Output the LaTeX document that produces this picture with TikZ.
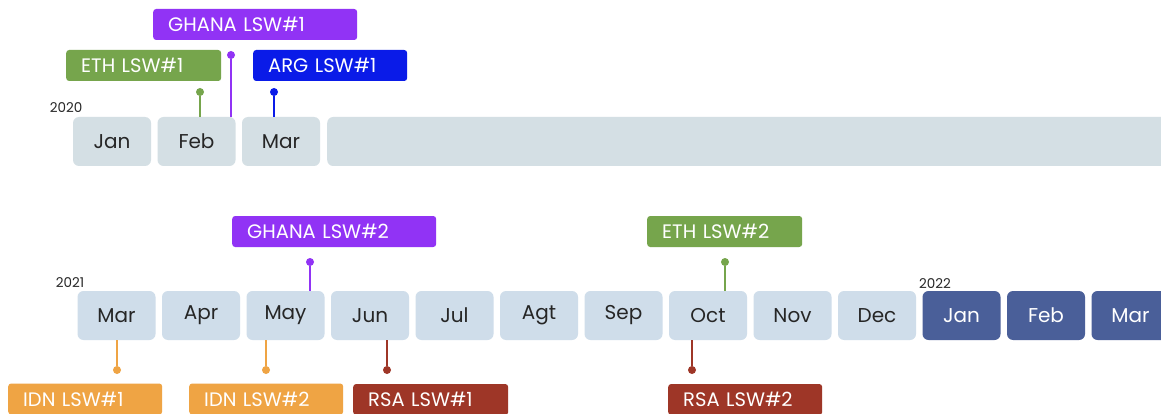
\documentclass[tikz,border=0pt]{standalone}
\usepackage{fontspec}
\setmainfont{Poppins}
\usetikzlibrary{positioning}
\definecolor{greyblue}{HTML}{D4DFE4}
\definecolor{paleblue}{HTML}{CFDDEA}
\definecolor{navy}{HTML}{4A5F99}
\definecolor{ethgreen}{HTML}{76A54C}
\definecolor{ghanapurple}{HTML}{9133F5}
\definecolor{argblue}{HTML}{0A1BE8}
\definecolor{idnorange}{HTML}{EFA444}
\definecolor{rsared}{HTML}{9E3627}

\tikzset{
  monthbox/.style={fill=#1, rounded corners=6pt, minimum width=78pt, minimum height=49pt,
    inner sep=0pt, text=black!85, font=\fontsize{20}{24}\selectfont},
  tag/.style 2 args={fill=#1, text=white, rounded corners=3pt, anchor=west,
    text width=#2, align=left, inner xsep=15pt, inner ysep=0pt, minimum height=31pt,
    font=\fontsize{19.5}{23}\selectfont},
  pin/.style={circle, fill=#1, inner sep=0pt, minimum size=8pt},
  stem/.style={#1, line width=1.3pt},
  year/.style={font=\fontsize{13.5}{16}\selectfont, text=black!85}
}

\begin{document}
\begin{tikzpicture}[x=1pt,y=-1pt]
	\useasboundingbox[fill=white] (0,0) rectangle (1161,414);
	
	% 2020 row
	\node[year] (y20) at (66,108) {2020};
	\node[monthbox=greyblue] (jan20) at (112,141.5) {Jan};
	\node[monthbox=greyblue] (feb20) at (196.5,141.5) {Feb};
	\node[monthbox=greyblue] (mar20) at (281,141.5) {Mar};
	\node[monthbox=greyblue, minimum width=880pt, anchor=west] (rest20) at (327,141.5) {};
	
	% tags above 2020
	\node[tag={ghanapurple}{174pt}] (gha1) at (153,24.5) {GHANA LSW\#1};
	\node[tag={ethgreen}{125pt}] (eth1) at (66,65.5) {ETH LSW\#1};
	\node[tag={argblue}{124pt}] (arg1) at (253,65.5) {ARG LSW\#1};
	
	\node[pin=ethgreen] (peth1) at (200,92) {};
	\node[pin=ghanapurple] (pgha1) at (231,55) {};
	\node[pin=argblue] (parg1) at (274,92) {};
	\draw[stem=ethgreen] (peth1) -- (peth1 |- feb20.north);
	\draw[stem=ghanapurple] (pgha1) -- (pgha1 |- feb20.north);
	\draw[stem=argblue] (parg1) -- (parg1 |- mar20.north);
	
	% 2021 row, then 2022
	\node[year] (y21) at (70,283) {2021};
	\node[year] (y22) at (935,284) {2022};
	\foreach \m [count=\i] in {Mar,Apr,May,Jun,Jul,Agt,Sep,Oct,Nov,Dec}
		\node[monthbox=paleblue] (m\i) at ({116.5+84.5*(\i-1)},315.5) {\m};
	\foreach \m [count=\i from 11] in {Jan,Feb,Mar}
		\node[monthbox=navy, text=white] (m\i) at ({116.5+84.5*(\i-1)},315.5) {\m};
	
	% tags above 2021
	\node[tag={ghanapurple}{174pt}] (gha2) at (232,231.5) {GHANA LSW\#2};
	\node[tag={ethgreen}{125pt}] (eth2) at (647,231.5) {ETH LSW\#2};
	\node[pin=ghanapurple] (pgha2) at (310,262) {};
	\node[pin=ethgreen] (peth2) at (725,262) {};
	\draw[stem=ghanapurple] (pgha2) -- (pgha2 |- m3.north);
	\draw[stem=ethgreen] (peth2) -- (peth2 |- m8.north);
	
	% tags below 2021
	\node[tag={idnorange}{124pt}] (idn1) at (8,399) {IDN LSW\#1};
	\node[tag={idnorange}{124pt}] (idn2) at (189,399) {IDN LSW\#2};
	\node[tag={rsared}{125pt}] (rsa1) at (353,399.5) {RSA LSW\#1};
	\node[tag={rsared}{124pt}] (rsa2) at (668,399.5) {RSA LSW\#2};
	\node[pin=idnorange] (pidn1) at (117,370) {};
	\node[pin=idnorange] (pidn2) at (266,370) {};
	\node[pin=rsared] (prsa1) at (387,370) {};
	\node[pin=rsared] (prsa2) at (692,370) {};
	\draw[stem=idnorange] (pidn1) -- (pidn1 |- m1.south);
	\draw[stem=idnorange] (pidn2) -- (pidn2 |- m3.south);
	\draw[stem=rsared] (prsa1) -- (prsa1 |- m4.south);
	\draw[stem=rsared] (prsa2) -- (prsa2 |- m8.south);
\end{tikzpicture}
\end{document}
